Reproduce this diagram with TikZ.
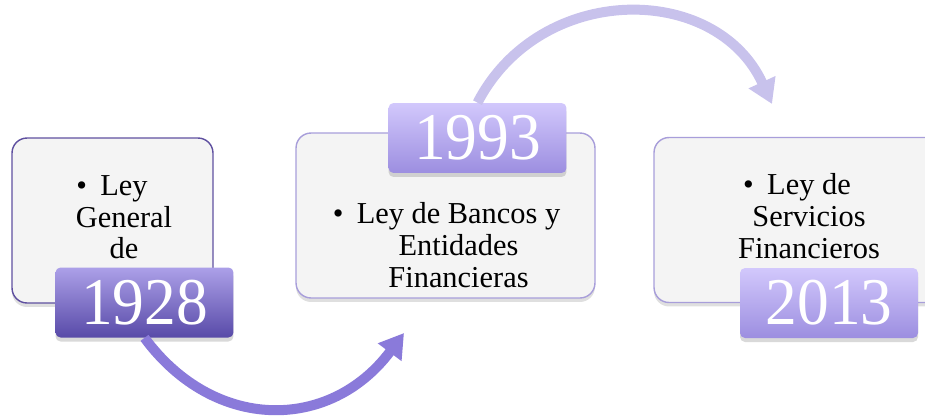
\documentclass[tikz,border=0pt]{standalone}
\usepackage{fontspec}
\setmainfont{Liberation Serif}
\usepackage{tikz}
\usetikzlibrary{arrows.meta,shadows,positioning}
\definecolor{boxfill}{RGB}{244,244,244}
\definecolor{darkedge}{RGB}{95,80,160}
\definecolor{lightedge}{RGB}{168,158,218}
\definecolor{yeardarktop}{RGB}{172,160,232}
\definecolor{yeardarkbot}{RGB}{88,74,168}
\definecolor{yearlighttop}{RGB}{210,200,252}
\definecolor{yearlightbot}{RGB}{156,142,224}
\definecolor{arrowdark}{RGB}{138,122,218}
\definecolor{arrowlight}{RGB}{200,194,236}
\tikzset{
  entry/.style={draw, line width=0.8pt, fill=boxfill, rounded corners=0.3cm, inner sep=0pt, minimum height=3.3cm,
    drop shadow={shadow xshift=0cm, shadow yshift=-0.08cm, opacity=0.25}},
  year/.style={rounded corners=0.1cm, inner sep=0pt, minimum height=1.4cm, minimum width=3.56cm, text=white,
    font=\fontsize{38}{40}\selectfont, drop shadow={shadow xshift=0cm, shadow yshift=-0.08cm, opacity=0.3}},
  entrytext/.style={anchor=north, inner sep=0pt, align=center, font=\fontsize{17.3}{18.1}\selectfont},
  bendarrow/.style={line width=0.2cm, -{Triangle[width=0.56cm,length=0.48cm]}}
}
\newcommand{\bul}{\makebox[0.48cm][l]{\textbullet}}
\newcommand{\ind}{\hspace*{0.48cm}}

\begin{document}
\begin{tikzpicture}[x=0.02cm,y=-0.02cm]
  \useasboundingbox (0,0) rectangle (925,416);
  \node[entry, draw=darkedge, minimum width=4.02cm] (box1) at (112.5,220.5) {};
  \node[entry, draw=lightedge, minimum width=5.98cm] (box2) at (445.5,215.5) {};
  \node[entry, draw=lightedge, minimum width=5.72cm] (box3) at (797,220) {};
  \node[entrytext] (txt1) at (112,175) {\bul Ley\\ \ind General\\ \ind de};
  \node[entrytext] (txt2) at (446.5,202) {\bul Ley de Bancos y\\ \ind Entidades\\ \ind Financieras};
  \node[entrytext] (txt3) at (797,173) {\bul Ley de\\ \ind Servicios\\ \ind Financieros};
  \node[year, top color=yeardarktop, bottom color=yeardarkbot] (y1928) at (144.5,302.5) {\scalebox{0.95}[1]{1928}};
  \node[year, top color=yearlighttop, bottom color=yearlightbot] (y1993) at (477.5,138) {\scalebox{0.95}[1]{1993}};
  \node[year, top color=yearlighttop, bottom color=yearlightbot] (y2013) at (829,303) {\scalebox{0.95}[1]{2013}};
  \coordinate (tip1) at (404,333);
  \coordinate (tip2) at (772,104);
  \draw[bendarrow, arrowdark] (y1928.south) .. controls (214,432) and (330,432) .. (tip1);
  \draw[bendarrow, arrowlight] (y1993.north) .. controls (540,-18) and (716,-18) .. (tip2);
\end{tikzpicture}
\end{document}
